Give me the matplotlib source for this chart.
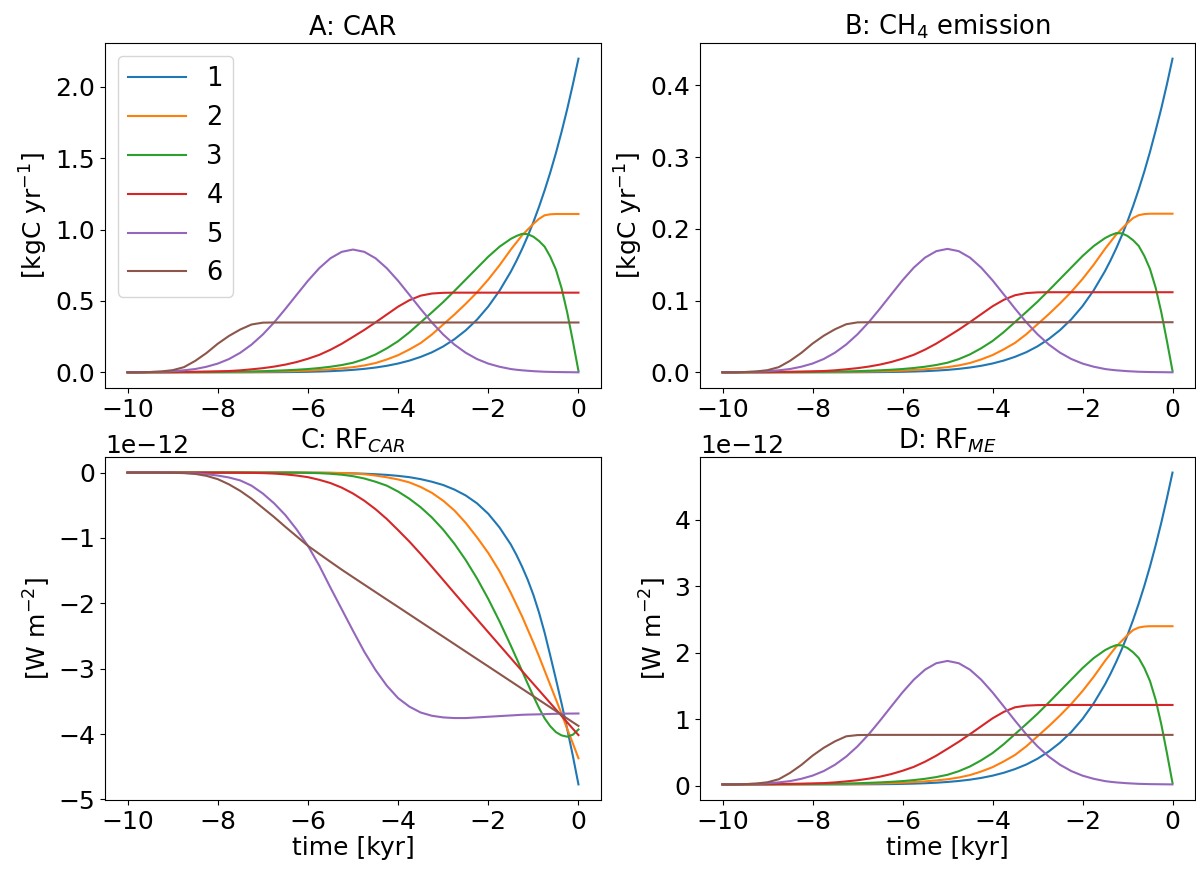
import numpy as np
import matplotlib.pyplot as plt

# time axis [kyr]: every 0.25 kyr, then every 0.125 kyr over the last 1.5 kyr
time = np.concatenate([np.linspace(-10, -1.5, 35), np.linspace(-1.375, 0, 12)])
labels = ['1', '2', '3', '4', '5', '6']

# A: CAR [kgC yr-1]
car_1 = [0] * 12 + [0.0005, 0.0009, 0.0014, 0.0023, 0.0036, 0.0055, 0.0082, 0.012, 0.0172, 0.0242,
                    0.0335, 0.0457, 0.0616, 0.082, 0.108, 0.140, 0.181, 0.232, 0.294, 0.369,
                    0.461, 0.572, 0.705,
                    0.781, 0.864, 0.954, 1.052, 1.159, 1.275, 1.400, 1.536, 1.684, 1.843, 2.015, 2.197]
car_2 = [0] * 8 + [0.001, 0.0015, 0.002, 0.003, 0.004, 0.0055, 0.007, 0.009, 0.012, 0.016,
                   0.021, 0.028, 0.036, 0.048, 0.065, 0.09, 0.12, 0.16, 0.205, 0.265,
                   0.335, 0.405, 0.48, 0.56, 0.65, 0.75, 0.86,
                   0.91, 0.96, 1.0, 1.04, 1.075, 1.10, 1.107, 1.109, 1.109, 1.109, 1.109, 1.109]
car_3 = [0, 0, 0.001, 0.001, 0.001, 0.002, 0.002, 0.003, 0.003, 0.004, 0.005, 0.006, 0.008, 0.011,
         0.014, 0.018, 0.023, 0.03, 0.039, 0.051, 0.067, 0.092, 0.125, 0.168, 0.218, 0.28, 0.35,
         0.42, 0.492, 0.57, 0.65, 0.73, 0.81, 0.88, 0.935,
         0.955, 0.97, 0.968, 0.95, 0.92, 0.88, 0.81, 0.72, 0.59, 0.42, 0.22, 0.01]
car_4 = [0, 0, 0.001, 0.001, 0.002, 0.003, 0.004, 0.005, 0.007, 0.009, 0.014, 0.021, 0.029, 0.04,
         0.054, 0.072, 0.095, 0.122, 0.158, 0.2, 0.248, 0.297, 0.35, 0.405, 0.46, 0.505, 0.537,
         0.552, 0.557] + [0.558] * 18
car_5 = [0, 0.001, 0.002, 0.004, 0.008, 0.014, 0.023, 0.039, 0.061, 0.093, 0.137, 0.194, 0.265,
         0.349, 0.444, 0.543, 0.641, 0.729, 0.799, 0.844, 0.86, 0.844, 0.799, 0.729, 0.641, 0.543,
         0.444, 0.349, 0.265, 0.194, 0.137, 0.093, 0.061, 0.039, 0.023,
         0.018, 0.014, 0.011, 0.008, 0.006, 0.004, 0.003, 0.002, 0.0015, 0.001, 0.0005, 0]
car_6 = [0, 0, 0.002, 0.006, 0.015, 0.036, 0.08, 0.135, 0.2, 0.255, 0.3, 0.335, 0.348] + [0.349] * 34

# B: CH4 emission [kgC yr-1]
ch4_1 = [0] * 12 + [0.0001, 0.0002, 0.0003, 0.0005, 0.0007, 0.0011, 0.0016, 0.0024, 0.0034, 0.0048,
                    0.0067, 0.0091, 0.0123, 0.0164, 0.0216, 0.028, 0.0362, 0.0464, 0.0588, 0.0738,
                    0.0922, 0.1144, 0.141,
                    0.1562, 0.1728, 0.1908, 0.2104, 0.2318, 0.255, 0.28, 0.3072, 0.3368, 0.3675,
                    0.401, 0.437]
ch4_2 = [0] * 8 + [0.0002, 0.0003, 0.0004, 0.0006, 0.0008, 0.0011, 0.0014, 0.0018, 0.0024, 0.0032,
                   0.0042, 0.0056, 0.0072, 0.0096, 0.013, 0.018, 0.024, 0.032, 0.041, 0.053,
                   0.067, 0.081, 0.096, 0.112, 0.13, 0.15, 0.172,
                   0.182, 0.192, 0.2, 0.208, 0.215, 0.219, 0.2205, 0.221, 0.221, 0.221, 0.221, 0.221]
ch4_3 = [0, 0, 0.0002, 0.0002, 0.0002, 0.0004, 0.0004, 0.0006, 0.0006, 0.0008, 0.001, 0.0012,
         0.0016, 0.0022, 0.0028, 0.0036, 0.0046, 0.006, 0.0078, 0.0102, 0.0134, 0.0184, 0.025,
         0.0336, 0.0436, 0.056, 0.07, 0.084, 0.0984, 0.114, 0.13, 0.146, 0.162, 0.176, 0.187,
         0.191, 0.194, 0.1936, 0.19, 0.184, 0.176, 0.162, 0.144, 0.118, 0.084, 0.044, 0.002]
ch4_4 = [0, 0, 0.0002, 0.0002, 0.0004, 0.0006, 0.0008, 0.001, 0.0014, 0.0018, 0.0028, 0.0042,
         0.0058, 0.008, 0.0108, 0.0144, 0.019, 0.0244, 0.0316, 0.04, 0.0496, 0.0594, 0.07, 0.081,
         0.092, 0.101, 0.1074, 0.1104, 0.1114] + [0.1116] * 18
ch4_5 = [0, 0.0002, 0.0004, 0.0008, 0.0016, 0.0028, 0.0046, 0.0078, 0.0122, 0.0186, 0.0274, 0.0388,
         0.053, 0.0698, 0.0888, 0.1086, 0.1282, 0.1458, 0.1598, 0.1688, 0.172, 0.1688, 0.1598,
         0.1458, 0.1282, 0.1086, 0.0888, 0.0698, 0.053, 0.0388, 0.0274, 0.0186, 0.0122, 0.0078,
         0.0046,
         0.0036, 0.0028, 0.0022, 0.0016, 0.0012, 0.0008, 0.0006, 0.0004, 0.0003, 0.0002, 0.0001, 0]
ch4_6 = [0, 0, 0.0004, 0.0012, 0.003, 0.0072, 0.016, 0.027, 0.04, 0.051, 0.06, 0.067, 0.0696] + [0.0698] * 34

# C: RF_CAR [1e-12 W m-2]
rfcar_1 = [0] * 16 + [-0.002, -0.003, -0.005, -0.008, -0.012, -0.017, -0.025, -0.035, -0.05, -0.07,
                      -0.1, -0.14, -0.19, -0.26, -0.35, -0.47, -0.63, -0.84, -1.1,
                      -1.26, -1.44, -1.64, -1.87, -2.14, -2.45, -2.8, -3.16, -3.53, -3.92,
                      -4.33, -4.77]
rfcar_2 = [0] * 17 + [-0.001, -0.003, -0.006, -0.013, -0.025, -0.045, -0.072, -0.105, -0.15, -0.22,
                      -0.31, -0.43, -0.58, -0.77, -0.99, -1.23, -1.51, -1.84,
                      -2.02, -2.2, -2.4, -2.6, -2.81, -3.03, -3.25, -3.47, -3.69, -3.92,
                      -4.14, -4.37]
rfcar_3 = [0] * 15 + [-0.001, -0.004, -0.009, -0.018, -0.032, -0.055, -0.09, -0.14, -0.2, -0.29,
                      -0.4, -0.53, -0.687, -0.873, -1.089, -1.338, -1.619, -1.933, -2.277, -2.647,
                      -2.84, -3.035, -3.23, -3.42, -3.6, -3.76, -3.88, -3.97, -4.02, -4.04,
                      -4.01, -3.93]
rfcar_4 = [0] * 9 + [-0.001, -0.002, -0.004, -0.008, -0.015, -0.027, -0.045, -0.07, -0.11, -0.16,
                     -0.23, -0.32, -0.43, -0.56, -0.71, -0.88, -1.055, -1.244, -1.441, -1.642,
                     -1.844, -2.044, -2.243, -2.442, -2.64, -2.838,
                     -2.937, -3.035, -3.134, -3.232, -3.33, -3.428, -3.526, -3.624, -3.722, -3.82,
                     -3.918, -4.015]
rfcar_5 = [0, 0, 0, 0, -0.002, -0.005, -0.012, -0.025, -0.045, -0.075, -0.12, -0.2, -0.32, -0.47,
           -0.65, -0.87, -1.12, -1.42, -1.76, -2.09, -2.42, -2.74, -3.02, -3.26, -3.45, -3.58,
           -3.67, -3.72, -3.745, -3.755, -3.755, -3.745, -3.735, -3.725, -3.715,
           -3.71, -3.705, -3.702, -3.70, -3.698, -3.695, -3.692, -3.69, -3.688, -3.687, -3.686, -3.685]
rfcar_6 = [0, 0, 0, -0.001, -0.003, -0.008, -0.02, -0.05, -0.1, -0.18, -0.28, -0.4, -0.54, -0.68,
           -0.83, -0.975, -1.12, -1.243, -1.365, -1.485, -1.6, -1.714, -1.828, -1.942, -2.055,
           -2.169, -2.283, -2.397, -2.51, -2.624, -2.738, -2.852, -2.965, -3.079, -3.193,
           -3.25, -3.307, -3.364, -3.42, -3.477, -3.534, -3.591, -3.648, -3.705, -3.762, -3.819, -3.875]

# D: RF_ME [1e-12 W m-2]
rfme_1 = [0.02] * 12 + [0.021, 0.0219, 0.023, 0.0249, 0.0277, 0.0317, 0.0375, 0.0456, 0.0567, 0.0717,
                        0.0915, 0.1176, 0.1515, 0.1951, 0.2506, 0.3189, 0.4064, 0.5153, 0.6477, 0.8078,
                        1.0042, 1.2412, 1.5252,
                        1.6874, 1.8646, 2.0568, 2.266, 2.4945, 2.7421, 3.009, 3.2994, 3.6153, 3.9548,
                        4.322, 4.7106]
rfme_2 = [0.02] * 8 + [0.0222, 0.0232, 0.0243, 0.0265, 0.0286, 0.0319, 0.0351, 0.0394, 0.0459, 0.0546,
                       0.0654, 0.0805, 0.0978, 0.1237, 0.1604, 0.2144, 0.2792, 0.3656, 0.4628, 0.5924,
                       0.7436, 0.8948, 1.0568, 1.2296, 1.424, 1.64, 1.8776,
                       1.9856, 2.0936, 2.18, 2.2664, 2.342, 2.38, 2.395, 2.40, 2.40, 2.40, 2.40, 2.40]
rfme_3 = [0.02, 0.02, 0.0222, 0.0222, 0.0222, 0.0243, 0.0243, 0.0265, 0.0265, 0.0286, 0.0308, 0.033,
          0.0373, 0.0438, 0.0502, 0.0589, 0.0697, 0.0848, 0.1042, 0.1302, 0.1647, 0.2187, 0.29,
          0.3829, 0.4909, 0.6248, 0.776, 0.9272, 1.0827, 1.2512, 1.424, 1.5968, 1.7696, 1.9208,
          2.0396,
          2.0828, 2.1152, 2.1109, 2.072, 2.0072, 1.9208, 1.7696, 1.5752, 1.2944, 0.9272, 0.4952, 0.0416]
rfme_4 = [0.02, 0.02, 0.0222, 0.0222, 0.0243, 0.0265, 0.0286, 0.0308, 0.0351, 0.0394, 0.0502, 0.0654,
          0.0826, 0.1064, 0.1366, 0.1755, 0.2252, 0.2835, 0.3613, 0.452, 0.5557, 0.6615, 0.776,
          0.8948, 1.0136, 1.1108, 1.1799, 1.205, 1.213] + [1.215] * 18
rfme_5 = [0.02, 0.0222, 0.0243, 0.0286, 0.0373, 0.0502, 0.0697, 0.1042, 0.1518, 0.2209, 0.3159, 0.439,
          0.5924, 0.7738, 0.979, 1.1929, 1.4046, 1.5946, 1.7458, 1.843, 1.8776, 1.843, 1.7458,
          1.5946, 1.4046, 1.1929, 0.979, 0.7738, 0.5924, 0.439, 0.3159, 0.2209, 0.1518, 0.1042,
          0.0697,
          0.0589, 0.0502, 0.0438, 0.0373, 0.033, 0.0286, 0.0265, 0.0243, 0.0232, 0.0222, 0.0211, 0.02]
rfme_6 = [0.02, 0.02, 0.0243, 0.033, 0.0524, 0.0978, 0.1928, 0.3116, 0.452, 0.5708, 0.668, 0.7436,
          0.762] + [0.765] * 34

car = [car_1, car_2, car_3, car_4, car_5, car_6]
ch4 = [ch4_1, ch4_2, ch4_3, ch4_4, ch4_5, ch4_6]
rfcar = [rfcar_1, rfcar_2, rfcar_3, rfcar_4, rfcar_5, rfcar_6]
rfme = [rfme_1, rfme_2, rfme_3, rfme_4, rfme_5, rfme_6]

plt.rcParams['font.size'] = 18

W, H = 1196, 874
fig = plt.figure(figsize=(W / 100, H / 100), dpi=100)
axA = fig.add_axes([105 / W, 1 - 388 / H, 496 / W, 345 / H])
axB = fig.add_axes([700 / W, 1 - 388 / H, 495 / W, 345 / H])
axC = fig.add_axes([105 / W, 1 - 800 / H, 496 / W, 343 / H])
axD = fig.add_axes([700 / W, 1 - 800 / H, 495 / W, 343 / H])

for i in range(6):
    axA.plot(time, car[i], label=labels[i])
    axB.plot(time, ch4[i])
    axC.plot(time, np.array(rfcar[i]) * 1e-12)
    axD.plot(time, np.array(rfme[i]) * 1e-12)

axA.set_title("A: CAR", fontsize=18.5)
axB.set_title(r"B: CH$_4$ emission", fontsize=18.5)
axC.set_title(r"C: RF$_{CAR}$", fontsize=18.5)
axD.set_title(r"D: RF$_{ME}$", fontsize=18.5)

axA.set_ylabel(r"[kgC yr$^{-1}$]")
axB.set_ylabel(r"[kgC yr$^{-1}$]")
axC.set_ylabel(r"[W m$^{-2}$]")
axD.set_ylabel(r"[W m$^{-2}$]")
axC.set_xlabel("time [kyr]", labelpad=2)
axD.set_xlabel("time [kyr]", labelpad=2)

axA.legend(loc='upper left', fontsize=18.5, handlelength=2.25)

plt.savefig("out.png", dpi=100)
